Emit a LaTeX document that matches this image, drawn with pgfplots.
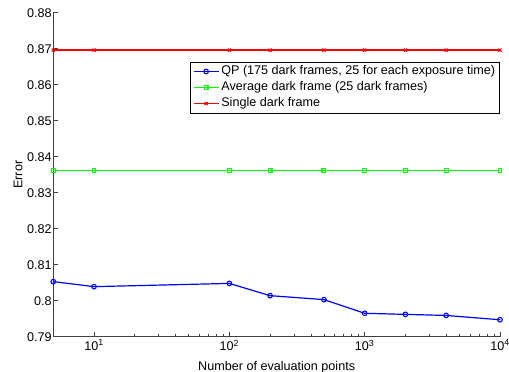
\documentclass[border=0pt]{standalone}
\usepackage{pgfplots}
\pgfplotsset{compat=1.18}
\usepackage{fontspec}
\setmainfont{Liberation Sans}
\definecolor{mblue}{rgb}{0,0,1}
\definecolor{mgreen}{rgb}{0,1,0}
\definecolor{mred}{rgb}{1,0,0}
\newcommand{\ff}{\fontsize{12.6}{14}\selectfont}
\begin{document}
\begin{tikzpicture}[font=\ff]
\begin{axis}[
  scale only axis, width=446.7pt, height=324pt,
  xmode=log, xmin=5, xmax=10000, ymin=0.79, ymax=0.88,
  axis x line*=bottom, axis y line*=left,
  axis line style={-, draw=black!75, line width=0.8pt},
  tick align=inside, tick style={black!75, line width=0.6pt},
  major tick length=5pt, minor tick length=3pt,
  xtick={10,100,1000,10000},
  xticklabels={10\textsuperscript{1},10\textsuperscript{2},10\textsuperscript{3},10\textsuperscript{4}},
  ytick={0.79,0.80,0.81,0.82,0.83,0.84,0.85,0.86,0.87,0.88},
  yticklabels={0.79,0.8,0.81,0.82,0.83,0.84,0.85,0.86,0.87,0.88},
  tick label style={font=\ff},
  label style={font=\ff},
  yticklabel style={inner sep=1.5pt},
  xticklabel style={inner sep=3pt},
  xlabel={Number of evaluation points}, ylabel={Error},
  xlabel style={inner sep=0pt, yshift=-8pt},
  ylabel style={inner sep=0pt, yshift=3pt},
  legend cell align=left,
  legend style={font=\ff, at={(1,1)}, anchor=north east, yshift=-49pt, draw=black, line width=0.7pt,
    fill=white, inner xsep=2.5pt, inner ysep=1.5pt, row sep=0pt,
    nodes={inner sep=2pt, text height=9pt, text depth=3pt}},
  legend image code/.code={\draw[#1, mark repeat=2, mark phase=2] plot coordinates {(0pt,0pt) (12.5pt,0pt) (25pt,0pt)};},
  clip=false,
]
\addplot[draw=mblue, line width=1.2pt, mark=o, mark size=2.3pt, mark options={draw=mblue, line width=1.1pt}] coordinates {
 (5,0.8053) (10,0.8039) (100,0.8048) (200,0.8014) (500,0.8003) (1000,0.7965) (2000,0.7962) (4000,0.7959) (10000,0.7947)};
\addlegendentry{QP (175 dark frames, 25 for each exposure time)\hspace{8pt}}
\addplot[draw=mgreen, line width=1.2pt, mark=square, mark size=1.9pt, mark options={draw=mgreen, line width=1.1pt}] coordinates {
 (5,0.8362) (10,0.8362) (100,0.8362) (200,0.8362) (500,0.8362) (1000,0.8362) (2000,0.8362) (4000,0.8362) (10000,0.8362)};
\addlegendentry{Average dark frame (25 dark frames)}
\addplot[draw=mred, line width=1.4pt, mark=x, mark size=2.2pt, mark options={draw=mred, line width=1.1pt}] coordinates {
 (5,0.8696) (10,0.8696) (100,0.8696) (200,0.8696) (500,0.8696) (1000,0.8696) (2000,0.8696) (4000,0.8696) (10000,0.8696)};
\addlegendentry{Single dark frame}
\end{axis}
\pgfresetboundingbox
\path[use as bounding box] ([xshift=-53.3pt,yshift=-35.3pt]current axis.south west) rectangle ([xshift=9pt,yshift=12.7pt]current axis.north east);
\end{tikzpicture}
\end{document}
